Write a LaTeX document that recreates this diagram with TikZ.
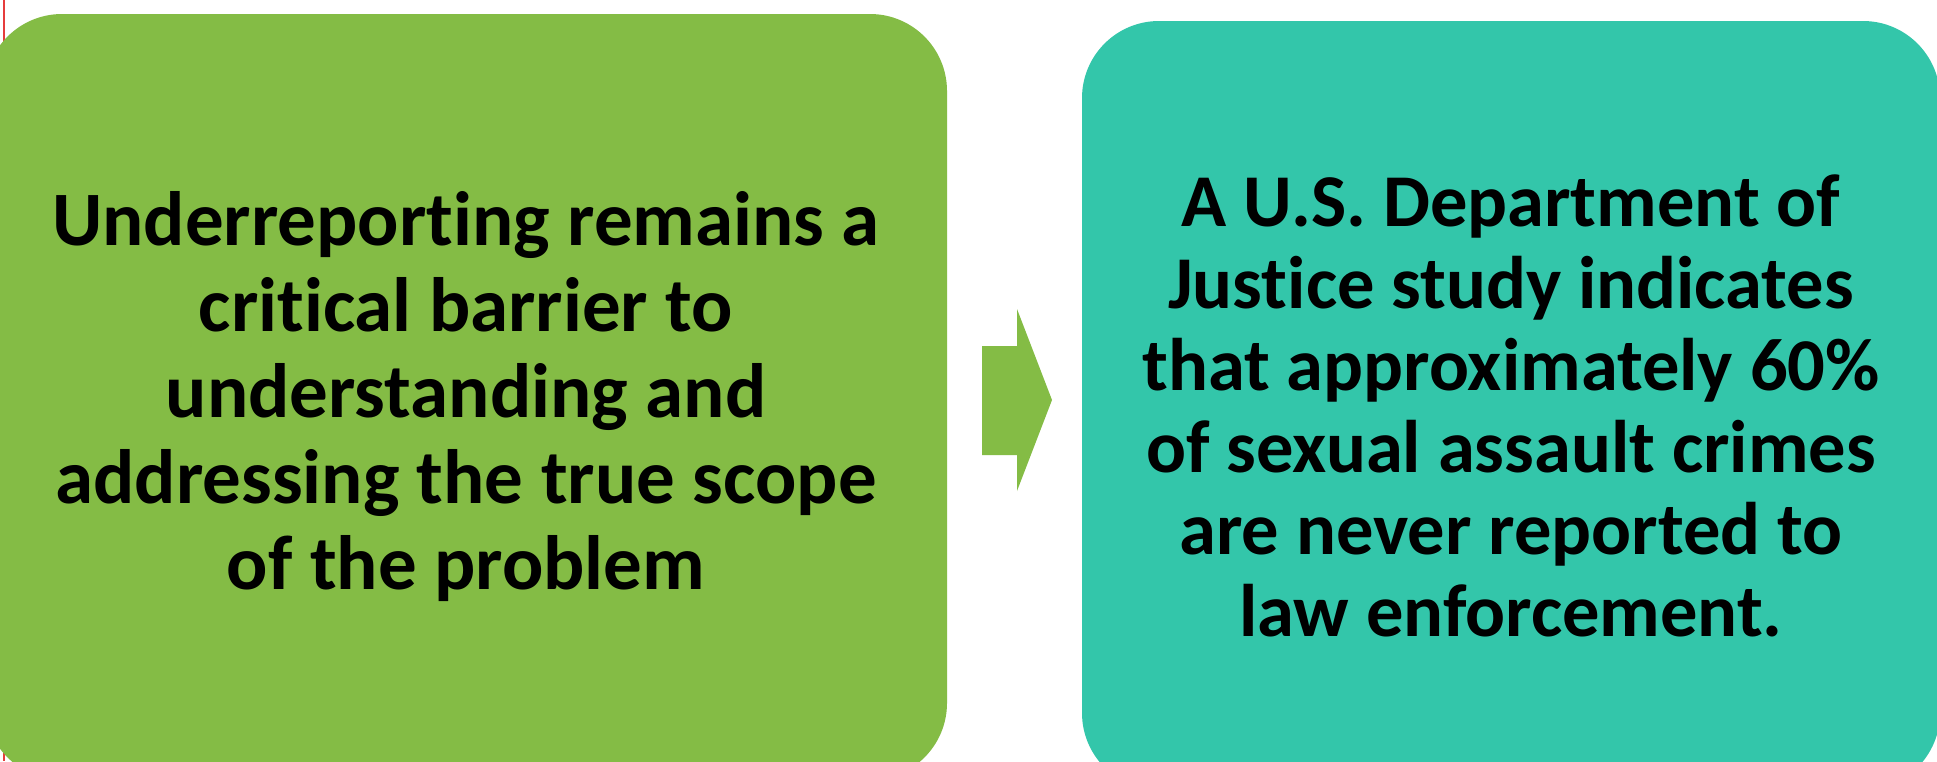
\documentclass[tikz,border=0pt]{standalone}
\usepackage{fontspec}
\setmainfont{Carlito}[Ligatures=NoCommon]
\definecolor{boxgreen}{RGB}{132,188,69}
\definecolor{boxteal}{RGB}{51,198,170}
\definecolor{edgered}{RGB}{230,60,60}
\begin{document}
\begin{tikzpicture}[x=1pt,y=-1pt,
  card/.style={rounded corners=77pt, inner sep=0pt, align=center, text=black},
  flowarrow/.style={fill=boxgreen, draw=none}]
\useasboundingbox (0,0) rectangle (1937,761);
\fill[white] (0,0) rectangle (1937,761);
\draw[edgered, line width=1.5pt] (4,0) -- (4,761);
\node[card, fill=boxgreen, minimum width=962pt, minimum height=766pt,
  font=\fontsize{77}{86}\selectfont\bfseries] (left) at (466,397)
  {Underreporting remains a\\critical barrier to\\understanding and\\addressing the true scope\\of the problem};
\node[card, fill=boxteal, minimum width=858pt, minimum height=769pt,
  font=\fontsize{74.5}{82}\selectfont\bfseries] (right) at (1511,405.5)
  {A U.S. Department of\\Justice study indicates\\that approximately 60\%\\of sexual assault crimes\\are never reported to\\law enforcement.};
\fill[flowarrow] (982,346) -- (1017,346) -- (1017,309) -- (1052,400) -- (1017,491) -- (1017,455) -- (982,455) -- cycle;
\end{tikzpicture}
\end{document}
